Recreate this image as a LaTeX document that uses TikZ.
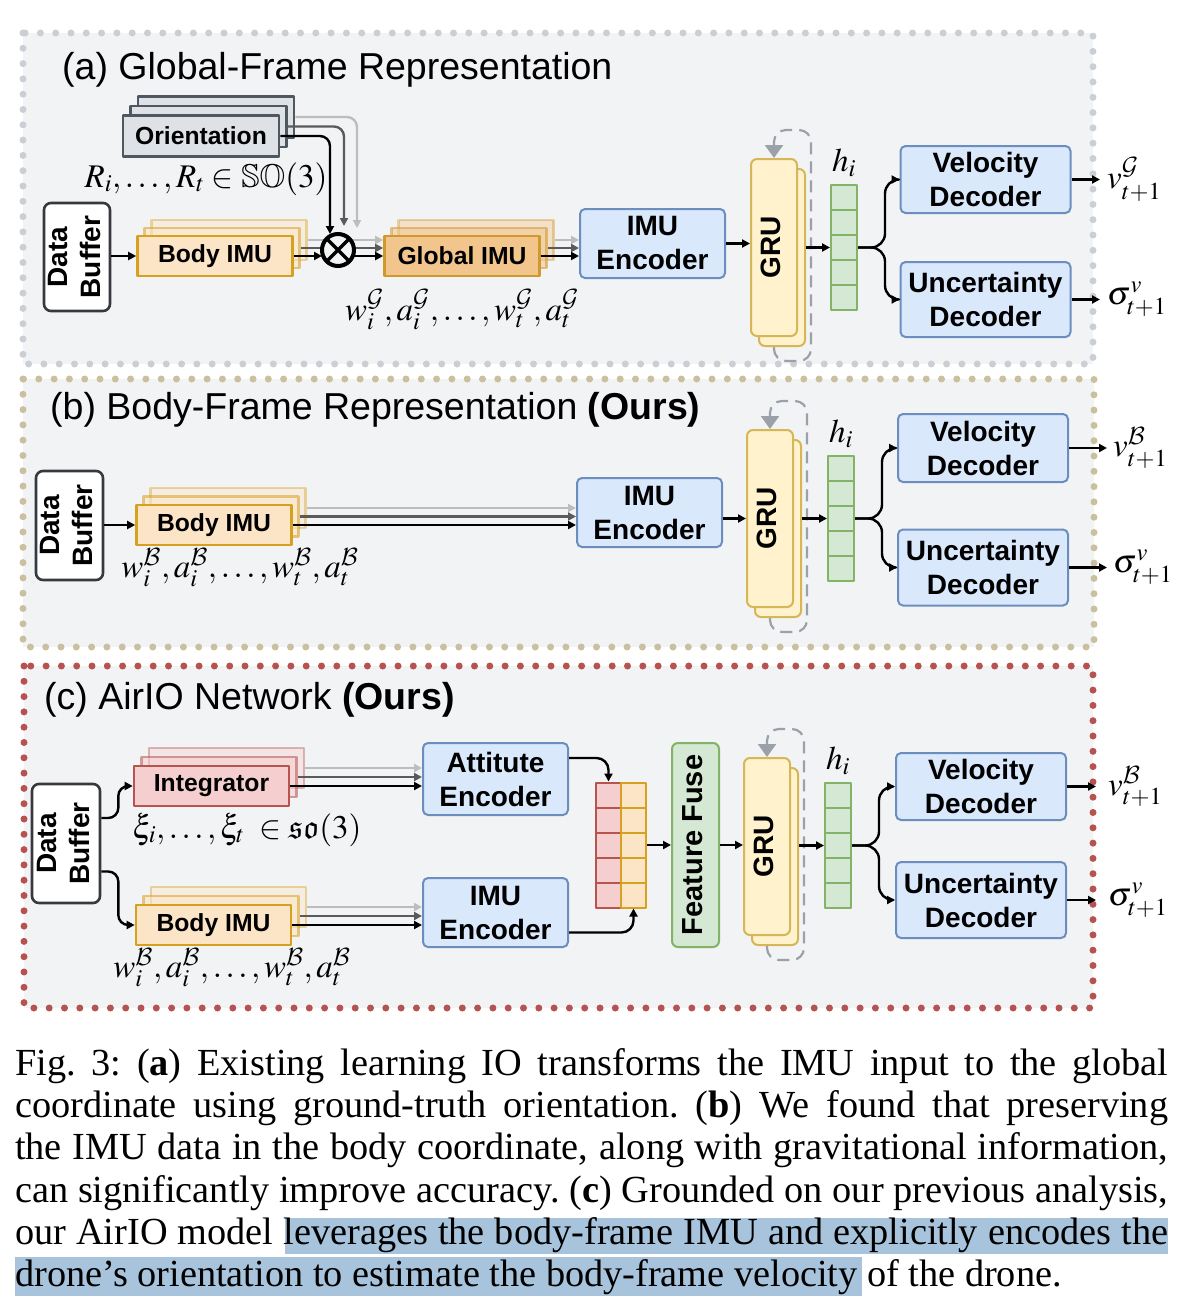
\documentclass[tikz,border=0pt]{standalone}
\usepackage{mathptmx}
\usepackage{amssymb}
\DeclareMathAlphabet{\mathcal}{OMS}{cmsy}{m}{n}
\usepackage{graphicx}
\usepackage{fontspec}
\setmainfont{Liberation Serif}
\newfontfamily\lsans{Liberation Sans}
\usetikzlibrary{arrows.meta,positioning}

\definecolor{panelfill}{HTML}{F2F3F5}
\definecolor{dotgray}{HTML}{CBCFD5}
\definecolor{dottan}{HTML}{CABF9E}
\definecolor{dotred}{HTML}{B65250}
\definecolor{encfill}{HTML}{DAE8FC}
\definecolor{encline}{HTML}{6C8EBF}
\definecolor{grufill}{HTML}{FFF2CC}
\definecolor{gruline}{HTML}{D6B656}
\definecolor{hfill}{HTML}{D5E8D4}
\definecolor{hline}{HTML}{82B366}
\definecolor{bodyfill}{HTML}{FCE4C6}
\definecolor{bodyline}{HTML}{D6A11E}
\definecolor{globfill}{HTML}{F2C58D}
\definecolor{globline}{HTML}{CF992D}
\definecolor{orifill}{HTML}{DEE2E7}
\definecolor{oriline}{HTML}{4F5761}
\definecolor{intfill}{HTML}{F5CFCF}
\definecolor{intline}{HTML}{B85450}
\definecolor{dbline}{HTML}{36393D}
\definecolor{midgray}{HTML}{5A5A5A}
\definecolor{ltgray}{HTML}{BDBDBD}
\definecolor{loopgray}{HTML}{9BA1A8}
\definecolor{hilite}{HTML}{A7C4DC}

\newcommand{\vtext}[1]{\rotatebox{90}{\begin{tabular}{@{}c@{}}#1\end{tabular}}}

\tikzset{
  dotframe/.style={draw=#1, line width=7pt, line cap=round, dash pattern=on 0pt off 15.3pt},
  box/.style={draw, line width=2pt, rounded corners=5pt, align=center, inner sep=0pt,
    font=\lsans\bfseries\fontsize{28}{34}\selectfont},
  encbox/.style={box, fill=encfill, draw=encline, minimum width=145pt, minimum height=69pt},
  decbox/.style={box, fill=encfill, draw=encline, minimum width=170pt},
  bufbox/.style={box, fill=white, draw=dbline, line width=2.6pt, rounded corners=7pt,
    font=\lsans\bfseries\fontsize{28}{33}\selectfont},
  grubox/.style={box, fill=grufill, draw=gruline, rounded corners=6pt, minimum width=46pt, minimum height=177pt},
  ffbox/.style={box, fill=hfill, draw=hline, rounded corners=6pt, minimum width=47pt, minimum height=204pt,
    font=\lsans\bfseries\fontsize{29}{34}\selectfont},
  stackbox/.style={draw, line width=2.6pt, align=center, inner sep=0pt, minimum width=155pt, minimum height=40pt,
    font=\lsans\bfseries\fontsize{24.7}{28}\selectfont},
  bodybox/.style={stackbox, fill=bodyfill, draw=bodyline},
  globbox/.style={stackbox, fill=globfill, draw=globline},
  intbox/.style={stackbox, fill=intfill, draw=intline},
  oribox/.style={stackbox, fill=orifill, draw=oriline, minimum width=156pt, minimum height=41pt},
  ghostA/.style={opacity=0.55},
  ghostB/.style={opacity=0.4},
  cell/.style={draw=hline, fill=hfill, line width=2pt, minimum width=26pt, minimum height=25pt, inner sep=0pt},
  rcell/.style={cell, draw=intline, fill=intfill, minimum width=25pt},
  ycell/.style={cell, draw=bodyline, fill=bodyfill, minimum width=25pt},
  mulnode/.style={circle, draw, line width=4pt, fill=panelfill, minimum size=32pt, inner sep=0pt, outer sep=0pt},
  arr/.style={line width=2.4pt, -{Triangle[length=8pt,width=8pt]}},
  arrD/.style={arr, draw=midgray},
  arrL/.style={arr, draw=ltgray},
  fb/.style={draw=loopgray, line width=2.2pt, dash pattern=on 12pt off 7pt, rounded corners=12pt,
    -{Triangle[length=13pt,width=18pt]}},
  ml/.style={font=\fontsize{33}{37}\selectfont, inner sep=0pt},
  ttl/.style={font=\lsans\fontsize{37.5}{40}\selectfont, anchor=base west, inner sep=0pt},
  capl/.style={font=\fontsize{38.3}{42}\selectfont\frenchspacing, anchor=base west, inner sep=0pt},
}

\begin{document}
\begin{tikzpicture}[x=1pt, y=-1pt, line join=round]
\useasboundingbox (0,0) rectangle (1203,1311);

% the three panels
\fill[panelfill] (23,33) rectangle (1093,364);
\draw[dotframe=dotgray] (23,33) rectangle (1093,364);
\fill[panelfill] (23,379) rectangle (1094,647);
\draw[dotframe=dottan] (23,379) rectangle (1094,647);
\fill[panelfill] (24,666) rectangle (1093,1008);
\draw[dotframe=dotred] (24,666) rectangle (1093,1008);

\node[ttl] (ttlA) at (62,80) {(a) Global-Frame Representation};
\node[ttl] (ttlB) at (50,419) {(b) Body-Frame Representation \textbf{(Ours)}};
\node[ttl] (ttlC) at (44,709) {(c) AirIO Network \textbf{(Ours)}};

% (a) global frame
\node[bufbox, minimum width=66pt, minimum height=108pt] (dbA) at (77,257) {\vtext{Data\\Buffer}};
\node[oribox] (oriA2) at (216,117) {};
\node[oribox] (oriA1) at (208.5,126.5) {};
\node[oribox] (oriA) at (201,136) {Orientation};
\node[bodybox, ghostB] (bimuA2) at (229,240) {};
\node[bodybox, ghostA] (bimuA1) at (222,248) {};
\node[bodybox] (bimuA) at (215,256) {Body IMU};
\node[globbox, ghostB] (gimuA2) at (476,240) {};
\node[globbox, ghostA] (gimuA1) at (469,248) {};
\node[globbox] (gimuA) at (462,256) {Global IMU};
\node[encbox] (encA) at (652.5,243.5) {IMU\\Encoder};
\node[grubox] (gruA1) at (782,257.5) {};
\node[grubox] (gruA) at (774,247.5) {\vtext{GRU}};
\foreach \i in {1,...,5} \node[cell] (hA\i) at (844,172.5+25*\i) {};
\node[ml, above=7pt of hA1] (hlA) {$h_i$};
\node[decbox, minimum height=67pt] (velA) at (985.5,179.5) {Velocity\\Decoder};
\node[decbox, minimum height=75pt] (uncA) at (985.5,299.5) {Uncertainty\\Decoder};
\node[ml, anchor=west] (vA) at (1107,179.5) {$v^{\mathcal{G}}_{t+1}$};
\node[ml, anchor=west] (sA) at (1107,299.5) {$\sigma^{v}_{t+1}$};
\node[ml, anchor=base] (rotA) at (206,187) {$R_i,\ldots,R_t\in\mathbb{SO}(3)$};
\node[ml, anchor=base] (wgA) at (462,320) {$w^{\mathcal{G}}_i,a^{\mathcal{G}}_i,\ldots,w^{\mathcal{G}}_t,a^{\mathcal{G}}_t$};

\coordinate (mulc) at (338,250);
\draw[arrL] (bimuA2.east) -- (bimuA2.east -| gimuA.west);
\draw[arrD] (bimuA1.east) -- (bimuA1.east -| gimuA.west);
\draw[arrL, rounded corners=10pt] (oriA2.east) -| ([shift={(19,-22)}]mulc);
\draw[arrD, rounded corners=10pt] (oriA1.east) -| ([shift={(6,-24)}]mulc);
\node[mulnode] (mulA) at (mulc) {};
\draw[line width=3.5pt] (mulA.north west) -- (mulA.south east) (mulA.north east) -- (mulA.south west);
\draw[arr] (dbA.east |- bimuA.west) -- (bimuA.west);
\draw[arr] (bimuA.east) -- (bimuA.east -| mulA.west);
\draw[arr, rounded corners=10pt] (oriA.east) -| ([shift={(-8,-16)}]mulc);
\draw[arr] (mulA.east |- gimuA.west) -- (gimuA.west);
\draw[arrL] (gimuA2.east) -- (gimuA2.east -| encA.west);
\draw[arrD] (gimuA1.east) -- (gimuA1.east -| encA.west);
\draw[arr] (gimuA.east) -- (gimuA.east -| encA.west);
\draw[arr] (encA.east) -- (encA.east -| gruA.west);
\draw[fb] (gruA.south |- gruA1.south) -- ++(0,14) -| ([shift={(37,-28)}]gruA.north) -| (gruA.north);
\draw[arr] (gruA1.east |- hA3.west) -- (hA3.west);
\draw[arr, rounded corners=14pt] (hA3.east) -- ++(27,0) |- (velA.west);
\draw[arr, rounded corners=14pt] (hA3.east) -- ++(27,0) |- (uncA.west);
\draw[arr, shorten >=7pt] (velA.east) -- (vA.west);
\draw[arr, shorten >=7pt] (uncA.east) -- (sA.west);

% (b) body frame
\node[bufbox, minimum width=67pt, minimum height=109pt] (dbB) at (69.5,525.5) {\vtext{Data\\Buffer}};
\node[bodybox, ghostB] (bimuB2) at (228,508) {};
\node[bodybox, ghostA] (bimuB1) at (221,516.5) {};
\node[bodybox] (bimuB) at (214,525) {Body IMU};
\node[encbox] (encB) at (649.5,512.5) {IMU\\Encoder};
\node[grubox] (gruB1) at (778,528.5) {};
\node[grubox] (gruB) at (770,518.5) {\vtext{GRU}};
\foreach \i in {1,...,5} \node[cell] (hB\i) at (841,443.5+25*\i) {};
\node[ml, above=7pt of hB1] (hlB) {$h_i$};
\node[decbox, minimum height=68pt] (velB) at (983,448) {Velocity\\Decoder};
\node[decbox, minimum height=76pt] (uncB) at (983,567.5) {Uncertainty\\Decoder};
\node[ml, anchor=west] (vB) at (1113,448) {$v^{\mathcal{B}}_{t+1}$};
\node[ml, anchor=west] (sB) at (1113,567.5) {$\sigma^{v}_{t+1}$};
\node[ml, anchor=base] (wbB) at (240,577) {$w^{\mathcal{B}}_i,a^{\mathcal{B}}_i,\ldots,w^{\mathcal{B}}_t,a^{\mathcal{B}}_t$};

\draw[arr] (dbB.east |- bimuB.west) -- (bimuB.west);
\draw[arrL] (bimuB2.east) -- (bimuB2.east -| encB.west);
\draw[arrD] (bimuB1.east) -- (bimuB1.east -| encB.west);
\draw[arr] (bimuB.east) -- (bimuB.east -| encB.west);
\draw[arr] (encB.east |- gruB.west) -- (gruB.west);
\draw[fb] (gruB.south |- gruB1.south) -- ++(0,14) -| ([shift={(37,-28)}]gruB.north) -| (gruB.north);
\draw[arr] (gruB1.east |- hB3.west) -- (hB3.west);
\draw[arr, rounded corners=14pt] (hB3.east) -- ++(27,0) |- (velB.west);
\draw[arr, rounded corners=14pt] (hB3.east) -- ++(27,0) |- (uncB.west);
\draw[arr, shorten >=6pt] (velB.east) -- (vB.west);
\draw[arr, shorten >=6pt] (uncB.east) -- (sB.west);

% (c) AirIO
\node[bufbox, minimum width=68pt, minimum height=119pt] (dbC) at (66,843.5) {\vtext{Data\\Buffer}};
\node[intbox, ghostB] (intC2) at (226.5,768) {};
\node[intbox, ghostA] (intC1) at (219,777) {};
\node[intbox] (intC) at (211.5,786) {Integrator};
\node[bodybox, ghostB] (bimuC2) at (228.5,907) {};
\node[bodybox, ghostA] (bimuC1) at (221,916) {};
\node[bodybox] (bimuC) at (213.5,925) {Body IMU};
\node[encbox, minimum height=72pt] (attC) at (495.5,779) {Attitute\\Encoder};
\node[encbox] (imuC) at (495.5,912.5) {IMU\\Encoder};
\foreach \i in {1,...,5} {
  \node[rcell] (fr\i) at (608.5,770+25*\i) {};
  \node[ycell] (fy\i) at (633.5,770+25*\i) {};
}
\node[ffbox] (ffC) at (695.5,845) {\vtext{Feature Fuse}};
\node[grubox] (gruC1) at (775,856.5) {};
\node[grubox] (gruC) at (767,846.5) {\vtext{GRU}};
\foreach \i in {1,...,5} \node[cell] (hC\i) at (838,770.5+25*\i) {};
\node[ml, above=7pt of hC1] (hlC) {$h_i$};
\node[decbox, minimum height=67pt] (velC) at (981,786.5) {Velocity\\Decoder};
\node[decbox, minimum height=76pt] (uncC) at (981,900) {Uncertainty\\Decoder};
\node[ml, anchor=west] (vC) at (1108,786.5) {$v^{\mathcal{B}}_{t+1}$};
\node[ml, anchor=west] (sC) at (1108,900) {$\sigma^{v}_{t+1}$};
\node[ml, anchor=base] (xiC) at (247,838) {$\xi_i,\ldots,\xi_t\;\in\mathfrak{so}(3)$};
\node[ml, anchor=base] (wbC) at (232,977) {$w^{\mathcal{B}}_i,a^{\mathcal{B}}_i,\ldots,w^{\mathcal{B}}_t,a^{\mathcal{B}}_t$};

\draw[arr, rounded corners=10pt] ([yshift=25.5pt]dbC.east) -- ++(17,0) |- (intC.west);
\draw[arr, rounded corners=10pt] ([yshift=-28pt]dbC.east) -- ++(17,0) |- (bimuC.west);
\draw[arrL] (intC2.east) -- (intC2.east -| attC.west);
\draw[arrD] (intC1.east) -- (intC1.east -| attC.west);
\draw[arr] (intC.east) -- (intC.east -| attC.west);
\draw[arrL] (bimuC2.east) -- (bimuC2.east -| imuC.west);
\draw[arrD] (bimuC1.east) -- (bimuC1.east -| imuC.west);
\draw[arr] (bimuC.east) -- (bimuC.east -| imuC.west);
\draw[arr, rounded corners=12pt] ([yshift=21pt]attC.east) -| (fr1.north);
\draw[arr, rounded corners=12pt] ([yshift=-20pt]imuC.east) -| (fy5.south);
\draw[arr] (fy3.east) -- (ffC.west);
\draw[arr] (ffC.east) -- (ffC.east -| gruC.west);
\draw[fb] (gruC.south |- gruC1.south) -- ++(0,14) -| ([shift={(37,-28)}]gruC.north) -| (gruC.north);
\draw[arr] (gruC1.east |- hC3.west) -- (hC3.west);
\draw[arr, rounded corners=14pt] (hC3.east) -- ++(27,0) |- (velC.west);
\draw[arr, rounded corners=14pt] (hC3.east) -- ++(27,0) |- (uncC.west);
\draw[arr, shorten >=12pt] (velC.east) -- (vC.west);
\draw[arr, shorten >=12pt] (uncC.east) -- (sC.west);

% caption
\fill[hilite] (285,1218) rectangle (1168,1254);
\fill[hilite] (15,1257) rectangle (862,1296);
\node[capl] (cap1) at (15,1075) {\makebox[1153pt][s]{Fig.\ 3: (\textbf{a}) Existing learning IO transforms the IMU input to the global}};
\node[capl] (cap2) at (15,1117) {\makebox[1153pt][s]{coordinate using ground-truth orientation. (\textbf{b}) We found that preserving}};
\node[capl] (cap3) at (15,1159.5) {\makebox[1153pt][s]{the IMU data in the body coordinate, along with gravitational information,}};
\node[capl] (cap4) at (15,1202) {\makebox[1153pt][s]{can significantly improve accuracy. (\textbf{c}) Grounded on our previous analysis,}};
\node[capl] (cap5) at (15,1244) {\makebox[1153pt][s]{our AirIO model leverages the body-frame IMU and explicitly encodes the}};
\node[capl] (cap6) at (15,1286.5) {drone's orientation to estimate the body-frame velocity of the drone.};
\end{tikzpicture}
\end{document}
